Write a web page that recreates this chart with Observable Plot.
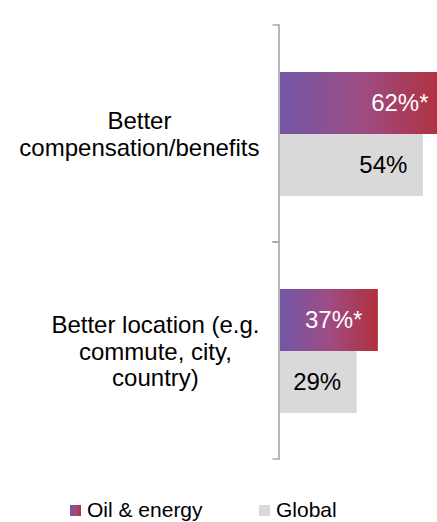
<!DOCTYPE html>
<html>
<head>
<meta charset="utf-8">
<script src="https://cdn.jsdelivr.net/npm/d3@7"></script>
<script src="https://cdn.jsdelivr.net/npm/@observablehq/plot@0.6"></script>
<style>
  html, body { margin: 0; padding: 0; background: #fff; overflow: hidden; }
  #chart svg { overflow: hidden; }
  .legend { position: relative; height: 30px; margin-top: 12px; font-family: "Liberation Sans", Arial, sans-serif; font-size: 21px; color: #000; }
  .legend .item { position: absolute; top: 0; display: flex; align-items: center; line-height: 26px; white-space: nowrap; }
  .legend .sw { width: 11px; height: 11px; margin-right: 6px; }
</style>
</head>
<body>
<div id="chart"></div>
<script>
// ---- data ----
const categories = ["Better compensation/benefits", "Better location (e.g. commute, city, country)"];
const categoryLines = ["Better\ncompensation/benefits", "Better location (e.g.\ncommute, city,\ncountry)"];
const series = ["Oil & energy", "Global"];
const oilValues = [62, 37];
const oilSignificant = [true, true];
const globalValues = [54, 29];

// ---- styles ----
const FONT = "Liberation Sans, Arial, sans-serif";
const labelSize = 24;
const valueSize = 24;
const gradStops = [["0%", "#7157A6"], ["50%", "#9E4C84"], ["100%", "#B1303C"]];
const globalColor = "#D9D9D9";
const axisColor = "#A6A6A6";

const rows = [];
categories.forEach((c, i) => {
  rows.push({category: c, series: series[0], value: oilValues[i], label: oilValues[i] + "%" + (oilSignificant[i] ? "*" : "")});
  rows.push({category: c, series: series[1], value: globalValues[i], label: globalValues[i] + "%"});
});
const oilRows = rows.filter(d => d.series === series[0]);
const globalRows = rows.filter(d => d.series === series[1]);

// measure label widths for centered multi-line labels right-aligned to the axis
const ctx = document.createElement("canvas").getContext("2d");
ctx.font = `${labelSize}px "Liberation Sans"`;
const labelGap = 21;
const labelMarks = categories.map((c, i) => {
  const w = d3.max(categoryLines[i].split("\n"), s => ctx.measureText(s).width);
  return Plot.text([c], {
    fy: d => d, text: () => categoryLines[i],
    frameAnchor: "left", textAnchor: "middle", lineAnchor: "middle",
    dx: -(labelGap + w / 2), fontSize: labelSize, lineHeight: 1.12, fill: "#000"
  });
});

const axisMark = (index, scales, values, dimensions) => {
  const {marginTop, marginBottom, height} = dimensions;
  const x0 = scales.x(0) - 1;
  const top = marginTop, bottom = height - marginBottom;
  const g = d3.create("svg:g");
  g.append("path")
    .attr("d", `M${x0 - 6.5},${top}H${x0}V${bottom}H${x0 - 6.5}`)
    .attr("fill", "none").attr("stroke", axisColor).attr("stroke-width", 1.6);
  return g.node();
};

const chart = Plot.plot({
  width: 437,
  height: 485,
  marginLeft: 280,
  marginRight: -7,
  marginTop: 25,
  marginBottom: 26,
  style: {fontFamily: FONT, background: "#fff", overflow: "hidden"},
  x: {domain: [0, 62], axis: null},
  y: {domain: series, paddingInner: 0, paddingOuter: 0.75, axis: null},
  fy: {domain: categories, padding: 0, axis: null},
  marks: [
    Plot.barX(oilRows, {fy: "category", y: "series", x: "value", fill: "url(#oilGrad)"}),
    Plot.barX(globalRows, {fy: "category", y: "series", x: "value", fill: globalColor}),
    Plot.text(oilRows, {fy: "category", y: "series", x: "value", text: "label", textAnchor: "end", dx: -16, fill: "#fff", fontSize: valueSize}),
    Plot.text(globalRows, {fy: "category", y: "series", x: "value", text: "label", textAnchor: "end", dx: -16, fill: "#000", fontSize: valueSize}),
    ...labelMarks,
    axisMark
  ]
});

const svg = d3.select(chart.tagName.toLowerCase() === "svg" ? chart : chart.querySelector("svg"));
const grad = svg.insert("defs", ":first-child").append("linearGradient")
  .attr("id", "oilGrad").attr("x1", "0").attr("x2", "1").attr("y1", "0").attr("y2", "0");
gradStops.forEach(([o, c]) => grad.append("stop").attr("offset", o).attr("stop-color", c));

document.getElementById("chart").append(chart);

// legend
const legend = d3.select("body").append("div").attr("class", "legend");
const legendItems = [
  {name: series[0], left: 70, bg: `linear-gradient(to right, ${gradStops.map(s => s[1] + " " + s[0]).join(", ")})`},
  {name: series[1], left: 259, bg: globalColor}
];
legendItems.forEach(it => {
  const item = legend.append("div").attr("class", "item").style("left", it.left + "px");
  item.append("div").attr("class", "sw").style("background", it.bg);
  item.append("span").text(it.name);
});
</script>
</body>
</html>
